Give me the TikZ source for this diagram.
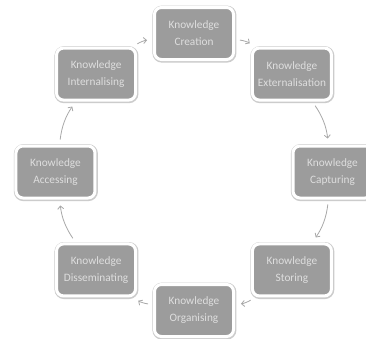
\documentclass[tikz,border=0pt]{standalone}
\usepackage{fontspec}
\setmainfont{Carlito}
\usetikzlibrary{arrows.meta}
\definecolor{boxgray}{HTML}{9C9C9C}
\definecolor{txtgray}{HTML}{DEDEDE}
\definecolor{arrgray}{HTML}{A8A8A8}

\begin{document}
\begin{tikzpicture}[x=1pt,y=1pt]
	\tikzset{
		stage/.style={rectangle, rounded corners=7pt, fill=boxgray, draw=white, line width=3pt,
			preaction={draw=black!20, line width=5pt, transform canvas={xshift=0.4pt,yshift=-0.6pt}},
			minimum width=79pt, minimum height=52pt, inner sep=2pt, align=center, text=txtgray,
			font=\fontsize{11.3}{17}\selectfont},
		cyc/.style={draw=arrgray, line width=0.8pt, -{Straight Barb[length=3pt,width=6pt]},
			shorten <=5pt, shorten >=6pt, bend left=14}
	}
	\clip (-194,-166) rectangle (172,172);
	\fill[white] (-194,-166) rectangle (172,172);
	% the eight stages round the cycle
	\node[stage] (crea) at (90:138.5) {Knowledge\\Creation};
	\node[stage] (ext) at (45:138.5) {Knowledge\\Externalisation};
	\node[stage] (capt) at (0:138.5) {Knowledge\\Capturing};
	\node[stage] (stor) at (-45:138.5) {Knowledge\\Storing};
	\node[stage] (org) at (-90:138.5) {Knowledge\\Organising};
	\node[stage] (diss) at (-135:138.5) {Knowledge\\Disseminating};
	\node[stage] (acc) at (180:138.5) {Knowledge\\Accessing};
	\node[stage] (int) at (135:138.5) {Knowledge\\Internalising};
	% arrows, clockwise
	\draw[cyc] (crea) to (ext);
	\draw[cyc] (ext) to (capt);
	\draw[cyc] (capt) to (stor);
	\draw[cyc] (stor) to (org);
	\draw[cyc] (org) to (diss);
	\draw[cyc] (diss) to (acc);
	\draw[cyc] (acc) to (int);
	\draw[cyc] (int) to (crea);
\end{tikzpicture}
\end{document}
